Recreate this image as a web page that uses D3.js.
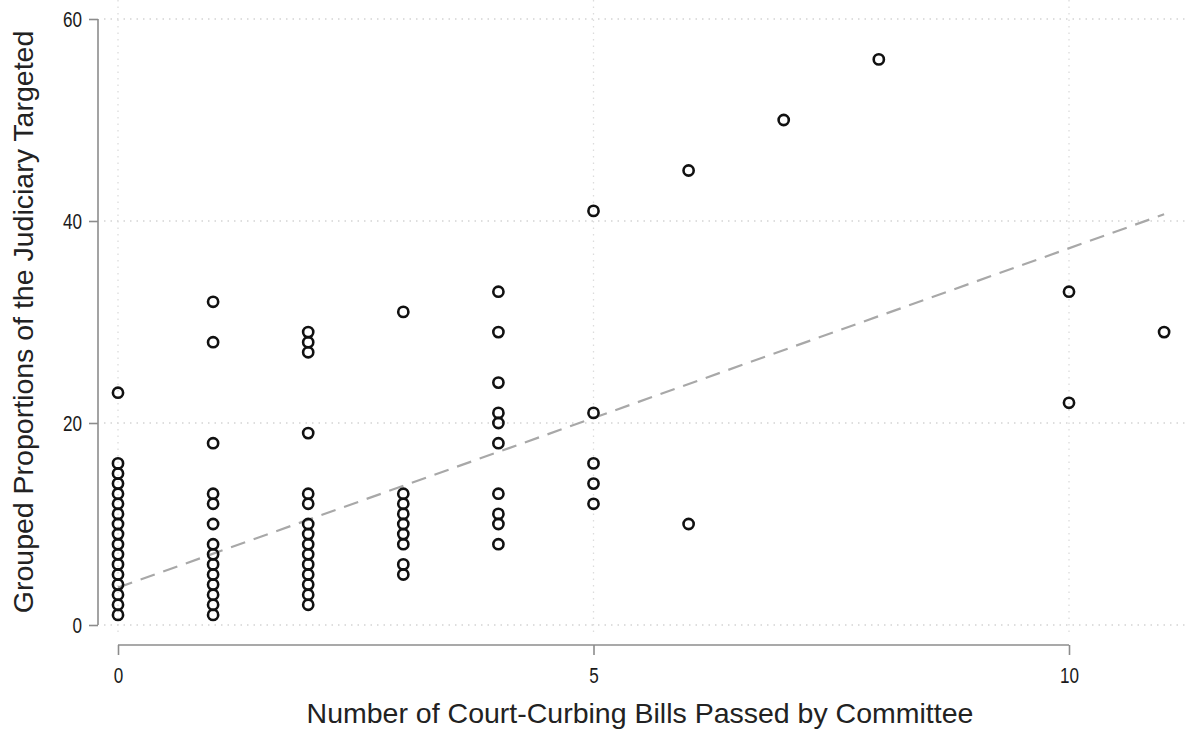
<!DOCTYPE html>
<html>
<head>
<meta charset="utf-8">
<script src="https://cdn.jsdelivr.net/npm/d3@7"></script>
<style>
  html, body { margin: 0; padding: 0; background: #fff; }
  svg { display: block; font-family: "Liberation Sans", Arial, sans-serif; }
</style>
</head>
<body>
<svg id="chart" width="1187" height="729"></svg>
<script>
// Bills passed by committee (x) and grouped proportion of the judiciary targeted (y)
const billsPassed = [
  0,0,0,0,0,0,0,0,0,0,0,0,0,0,0,0,0,
  1,1,1,1,1,1,1,1,1,1,1,1,1,1,
  2,2,2,2,2,2,2,2,2,2,2,2,2,2,2,
  3,3,3,3,3,3,3,3,3,
  4,4,4,4,4,4,4,4,4,4,
  5,5,5,5,5,
  6,6,
  7,
  8,
  10,10,
  11
];
const proportionTargeted = [
  1,2,3,4,5,6,7,8,9,10,11,12,13,14,15,16,23,
  1,2,3,4,5,6,7,8,10,12,13,18,28,32,
  2,3,4,5,6,7,8,9,10,12,13,19,27,28,29,
  5,6,8,9,10,11,12,13,31,
  8,10,11,13,18,20,21,24,29,33,
  12,14,16,21,41,
  10,45,
  50,
  56,
  22,33,
  29
];

// Fitted linear trend: intercept and slope
const fitIntercept = 3.7;
const fitSlope = 3.36;
const fitRange = [0, 11];

const xTicks = [0, 5, 10];
const yTicks = [0, 20, 40, 60];

const svg = d3.select("#chart");

const x = d3.scaleLinear().domain([0, 10]).range([118, 1069]);
const y = d3.scaleLinear().domain([0, 60]).range([625, 19]);

// Condensed tick-label style
const tickFont = 22.5;
const tickSquash = 0.76;

// Dotted grid
const grid = svg.append("g");
grid.selectAll("line.h").data(yTicks).join("line")
  .attr("x1", 104).attr("x2", 1187)
  .attr("y1", d => y(d)).attr("y2", d => y(d))
  .attr("stroke", "#d4d4d4").attr("stroke-width", 1.3)
  .attr("stroke-dasharray", "1.5,5");
grid.selectAll("line.v").data(xTicks).join("line")
  .attr("x1", d => x(d)).attr("x2", d => x(d))
  .attr("y1", 0).attr("y2", 632)
  .attr("stroke", "#dcdcdc").attr("stroke-width", 1.3)
  .attr("stroke-dasharray", "1.5,5");

// Y axis
const yAxis = svg.append("g")
  .attr("transform", "translate(98,0)")
  .call(d3.axisLeft(y).tickValues(yTicks).tickSize(9).tickPadding(6).tickFormat(d3.format("d")));
yAxis.select(".domain").attr("stroke", "#8c8c8c").attr("stroke-width", 1.6)
  .attr("d", `M0,${y(60)}V${y(0)}`);
yAxis.selectAll(".tick line").attr("stroke", "#8c8c8c").attr("stroke-width", 1.6);
yAxis.selectAll(".tick text")
  .attr("font-size", tickFont).attr("fill", "#1a1a1a")
  .attr("font-family", "Liberation Sans, Arial, sans-serif")
  .attr("x", -16 / tickSquash)
  .attr("transform", `scale(${tickSquash},1)`);

// X axis
const xAxis = svg.append("g")
  .attr("transform", "translate(0,645)")
  .call(d3.axisBottom(x).tickValues(xTicks).tickSize(10).tickPadding(12).tickFormat(d3.format("d")));
xAxis.select(".domain").attr("stroke", "#8c8c8c").attr("stroke-width", 1.6)
  .attr("d", `M${x(0)},0H${x(10)}`);
xAxis.selectAll(".tick line").attr("stroke", "#8c8c8c").attr("stroke-width", 1.6);
xAxis.selectAll(".tick text")
  .attr("font-size", tickFont).attr("fill", "#1a1a1a")
  .attr("font-family", "Liberation Sans, Arial, sans-serif")
  .attr("transform", `scale(${tickSquash},1)`);

// Fitted line
svg.append("line")
  .attr("x1", x(fitRange[0])).attr("y1", y(fitIntercept + fitSlope * fitRange[0]))
  .attr("x2", x(fitRange[1])).attr("y2", y(fitIntercept + fitSlope * fitRange[1]))
  .attr("stroke", "#a8a8a8").attr("stroke-width", 2.2)
  .attr("stroke-dasharray", "15,9");

// Points
const pts = billsPassed.map((b, i) => ({ b, p: proportionTargeted[i] }));
svg.append("g").selectAll("circle").data(pts).join("circle")
  .attr("cx", d => x(d.b)).attr("cy", d => y(d.p))
  .attr("r", 5.1)
  .attr("fill", "none").attr("stroke", "#111").attr("stroke-width", 2.6);

// Axis titles
svg.append("text")
  .attr("x", 640).attr("y", 723)
  .attr("text-anchor", "middle").attr("font-size", 28.5).attr("fill", "#222")
  .text("Number of Court-Curbing Bills Passed by Committee");
svg.append("text")
  .attr("transform", "translate(33,322) rotate(-90)")
  .attr("text-anchor", "middle").attr("font-size", 28.5).attr("fill", "#222")
  .text("Grouped Proportions of the Judiciary Targeted");
</script>
</body>
</html>
